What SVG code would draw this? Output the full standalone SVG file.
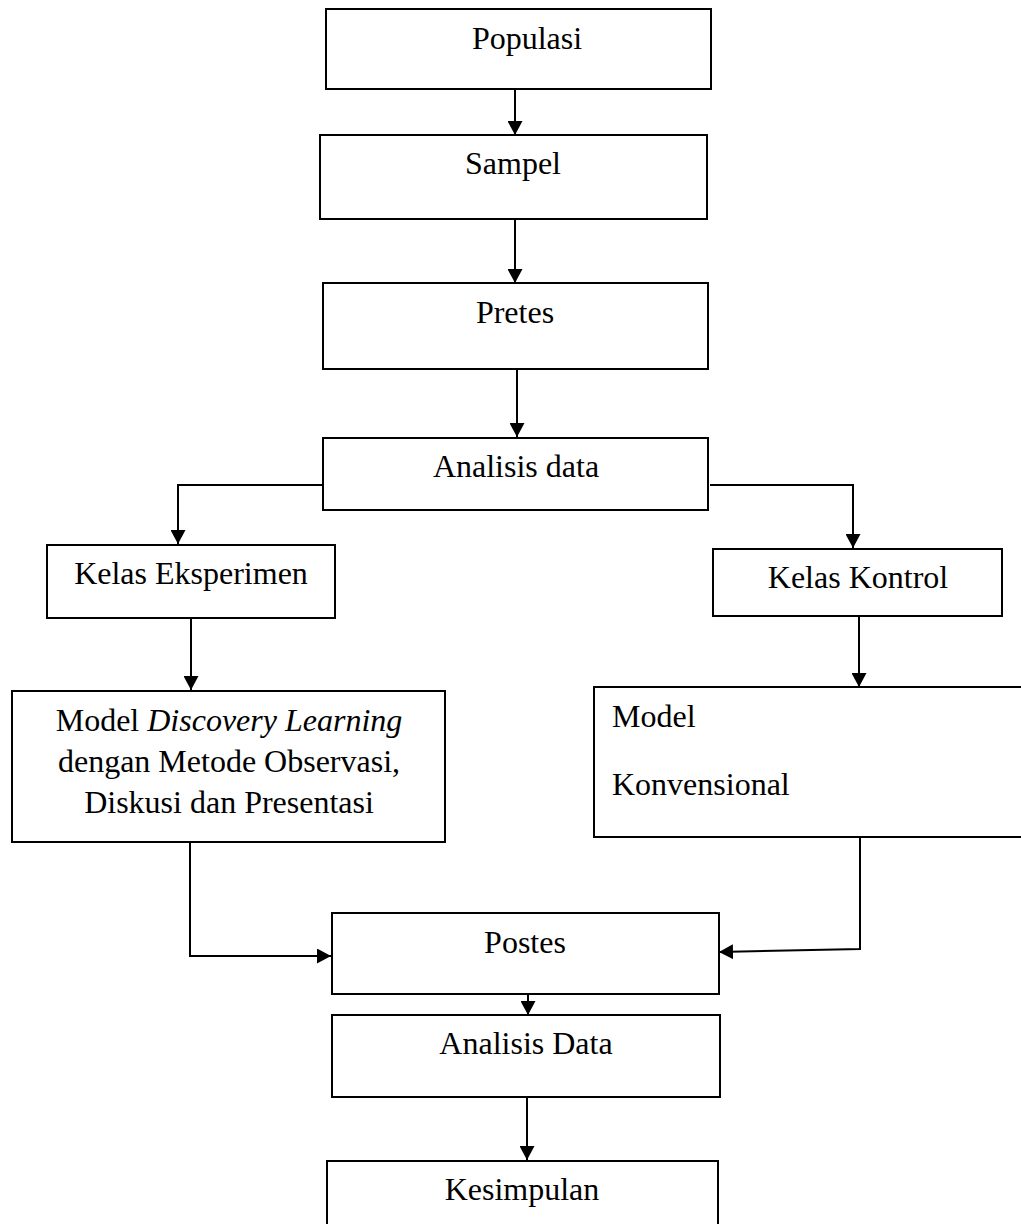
<svg xmlns="http://www.w3.org/2000/svg" width="1021" height="1224" viewBox="0 0 1021 1224">
<style>
.box{fill:#fff;stroke:#000;stroke-width:2}
.lbl{font-family:"Liberation Serif","Times New Roman",serif;font-size:32px;fill:#000}
.c{text-anchor:middle}
.con{fill:none;stroke:#000;stroke-width:2}
</style>
<defs>
<marker id="ah" markerUnits="userSpaceOnUse" markerWidth="14" markerHeight="15" refX="14" refY="7.5" orient="auto">
<path d="M0,0 L14,7.5 L0,15 z" fill="#000"/>
</marker>
</defs>
<rect width="1021" height="1224" fill="#fff"/>
<g id="connectors">
<path class="con" d="M515,89 V135" marker-end="url(#ah)"/>
<path class="con" d="M515,219 V283" marker-end="url(#ah)"/>
<path class="con" d="M517,369 V437" marker-end="url(#ah)"/>
<path class="con" d="M323,485 H178 V544" marker-end="url(#ah)"/>
<path class="con" d="M710,485 H853 V548" marker-end="url(#ah)"/>
<path class="con" d="M191,618 V690" marker-end="url(#ah)"/>
<path class="con" d="M859,616 V687" marker-end="url(#ah)"/>
<path class="con" d="M190,842 V956 H331" marker-end="url(#ah)"/>
<path class="con" d="M860,837 V949 L719,952" marker-end="url(#ah)"/>
<path class="con" d="M528,994 V1015" marker-end="url(#ah)"/>
<path class="con" d="M527,1097 V1160" marker-end="url(#ah)"/>
</g>
<g id="populasi"><rect class="box" x="326" y="9" width="385" height="80"/><text class="lbl c" x="527" y="49">Populasi</text></g>
<g id="sampel"><rect class="box" x="320" y="135" width="387" height="84"/><text class="lbl c" x="513" y="174">Sampel</text></g>
<g id="pretes"><rect class="box" x="323" y="283" width="385" height="86"/><text class="lbl c" x="515" y="323">Pretes</text></g>
<g id="analisis-data-1"><rect class="box" x="323" y="438" width="385" height="72"/><text class="lbl c" x="516" y="477">Analisis data</text></g>
<g id="kelas-eksperimen"><rect class="box" x="47" y="545" width="288" height="73"/><text class="lbl c" x="191" y="584">Kelas Eksperimen</text></g>
<g id="kelas-kontrol"><rect class="box" x="713" y="549" width="289" height="67"/><text class="lbl c" x="858" y="588">Kelas Kontrol</text></g>
<g id="model-discovery"><rect class="box" x="12" y="691" width="433" height="151"/>
<text class="lbl c" x="229" y="731">Model <tspan font-style="italic">Discovery Learning</tspan></text>
<text class="lbl c" x="229" y="772">dengan Metode Observasi,</text>
<text class="lbl c" x="229" y="813">Diskusi dan Presentasi</text></g>
<g id="model-konvensional"><rect class="box" x="594" y="687" width="440" height="150"/>
<text class="lbl" x="612" y="727">Model</text>
<text class="lbl" x="612" y="795">Konvensional</text></g>
<g id="postes"><rect class="box" x="332" y="913" width="387" height="81"/><text class="lbl c" x="525" y="953">Postes</text></g>
<g id="analisis-data-2"><rect class="box" x="332" y="1015" width="388" height="82"/><text class="lbl c" x="526" y="1054">Analisis Data</text></g>
<g id="kesimpulan"><rect class="box" x="327" y="1161" width="391" height="80"/><text class="lbl c" x="522" y="1200">Kesimpulan</text></g>
</svg>
